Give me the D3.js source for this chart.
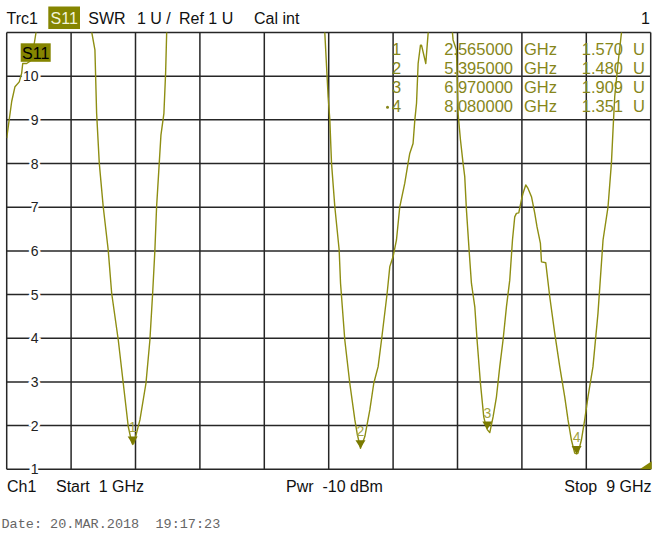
<!DOCTYPE html>
<html>
<head>
<meta charset="utf-8">
<script src="https://cdn.jsdelivr.net/npm/d3@7"></script>
<style>
  html, body { margin: 0; padding: 0; background: #fff; }
  svg { display: block; }
  text { font-family: "Liberation Sans", Arial, sans-serif; white-space: pre; }
</style>
</head>
<body>
<script>
// Trace: SWR vs frequency (GHz), sweep 1–9 GHz
const traceFreq = [
  1.000, 1.062, 1.103, 1.156, 1.186, 1.199, 1.248, 1.281, 1.310, 1.364, 1.390,
  2.040, 2.059, 2.096, 2.117, 2.150, 2.199, 2.261, 2.304, 2.386, 2.448, 2.510, 2.552, 2.565, 2.581,
  2.655, 2.730, 2.779, 2.813, 2.841, 2.862, 2.895, 2.916, 2.953, 2.974, 2.987, 3.000,
  4.940, 4.952, 4.993, 5.014, 5.035, 5.076, 5.130, 5.147, 5.200, 5.262, 5.325, 5.353, 5.395,
  5.449, 5.511, 5.560, 5.614, 5.656, 5.726, 5.759, 5.800, 5.842, 5.883, 5.945, 5.986, 6.007,
  6.048, 6.070, 6.091, 6.111, 6.140, 6.153, 6.206, 6.235, 6.260,
  6.520, 6.538, 6.545, 6.587, 6.607, 6.637, 6.669, 6.690, 6.711, 6.744, 6.773, 6.815, 6.843,
  6.885, 6.926, 6.955, 6.970, 7.001, 7.042, 7.084, 7.125, 7.166, 7.208, 7.249, 7.283, 7.311,
  7.332, 7.361, 7.394, 7.414, 7.448, 7.476, 7.519, 7.560, 7.588, 7.630, 7.643, 7.696, 7.746,
  7.808, 7.870, 7.932, 7.973, 8.015, 8.056, 8.080, 8.097, 8.139, 8.180, 8.221, 8.283, 8.345,
  8.408, 8.470, 8.512, 8.532, 8.553, 8.594, 8.636, 8.660, 9.000
];
const traceSwr = [
  8.58, 9.42, 9.76, 9.87, 10.07, 10.29, 10.29, 10.33, 10.37, 11.00, 11.60,
  11.40, 10.98, 10.60, 9.15, 8.01, 7.01, 6.02, 5.03, 3.96, 2.97, 1.98, 1.62, 1.570, 1.60,
  2.13, 2.97, 3.96, 5.03, 6.02, 7.01, 8.01, 8.65, 9.15, 10.07, 10.98, 11.50,
  11.40, 10.98, 9.53, 9.00, 8.01, 7.01, 6.02, 5.26, 3.96, 2.97, 2.13, 1.82, 1.480,
  1.75, 2.36, 2.97, 3.35, 3.96, 5.03, 5.64, 5.87, 6.25, 7.01, 7.55, 8.01, 8.23,
  8.46, 9.00, 9.38, 10.29, 10.71, 10.71, 10.29, 10.98, 11.60,
  11.50, 10.98, 10.83, 10.60, 9.15, 8.54, 8.01, 7.70, 6.94, 6.02, 5.26, 4.72, 3.96,
  2.97, 2.20, 1.98, 1.909, 1.84, 2.20, 2.66, 3.35, 3.96, 4.72, 5.33, 6.25, 6.78,
  6.86, 6.87, 7.17, 7.32, 7.51, 7.43, 7.24, 6.86, 6.55, 6.17, 5.75, 5.73, 4.95,
  4.11, 3.35, 2.66, 2.13, 1.67, 1.37, 1.351, 1.37, 1.67, 2.13, 2.66, 3.35, 4.57,
  6.25, 7.01, 8.01, 8.77, 9.53, 10.29, 10.98, 11.60, 12.00
];

// Markers
const markerNum  = ["1", "2", "3", "4"];
const markerFreq = [2.565, 5.395, 6.970, 8.080];
const markerSwr  = [1.570, 1.480, 1.909, 1.351];

// Axis ticks
const yTicks = [1, 2, 3, 4, 5, 6, 7, 8, 9, 10];
const xDivisions = 10;

const W = 652, H = 533;
const olive = "#858500";
const traceColor = "#8e8e12";

const svg = d3.select("body").append("svg").attr("width", W).attr("height", H);
svg.append("rect").attr("width", W).attr("height", H).attr("fill", "#fff");

const x = d3.scaleLinear().domain([1, 9]).range([6.7, 650.7]);
const y = d3.scaleLinear().domain([1, 11]).range([469.3, 32.5]);

// Grid
const grid = svg.append("g").attr("stroke", "#262626").attr("stroke-width", 1.5);
const xGrid = d3.range(xDivisions + 1).map(i => 1 + i * 8 / xDivisions);
grid.selectAll("line.v").data(xGrid).join("line")
  .attr("x1", d => x(d)).attr("x2", d => x(d))
  .attr("y1", y(11)).attr("y2", y(1));
grid.selectAll("line.h").data(yTicks.concat([11])).join("line")
  .attr("x1", x(1)).attr("x2", x(9))
  .attr("y1", d => y(d)).attr("y2", d => y(d));

// Y tick labels, with a white halo that breaks the grid line
svg.append("g").selectAll("text").data(yTicks).join("text")
  .attr("x", 38.5).attr("y", d => y(d)).attr("dy", "0.36em")
  .attr("text-anchor", "end").attr("font-size", 14).attr("fill", "#222")
  .attr("stroke", "#fff").attr("stroke-width", 5).attr("paint-order", "stroke")
  .text(d => d);

// Trace, clipped to the plot area
svg.append("clipPath").attr("id", "plotClip").append("rect")
  .attr("x", x(1)).attr("y", y(11)).attr("width", x(9) - x(1)).attr("height", y(1) - y(11));
const line = d3.line().x(d => x(d[0])).y(d => y(d[1]));
svg.append("path")
  .datum(traceFreq.map((f, i) => [f, traceSwr[i]]))
  .attr("clip-path", "url(#plotClip)")
  .attr("fill", "none").attr("stroke", traceColor).attr("stroke-width", 1.4)
  .attr("stroke-linejoin", "round")
  .attr("d", line);

// Marker triangles and numbers
const mk = svg.append("g");
markerFreq.forEach((f, i) => {
  const mx = x(f), my = y(markerSwr[i]);
  mk.append("path")
    .attr("d", `M${mx - 5},${my - 8}L${mx + 5},${my - 8}L${mx},${my}Z`)
    .attr("fill", "#7a7a00");
  mk.append("text")
    .attr("x", mx).attr("y", my - 12).attr("text-anchor", "middle")
    .attr("font-size", 14).attr("fill", "#a3a340")
    .text(markerNum[i]);
});

// Bottom-right stop indicator
svg.append("path")
  .attr("d", `M${x(9) - 11},${y(1)}L${x(9) + 1},${y(1)}L${x(9) + 1},${y(1) - 8}Z`)
  .attr("fill", olive);

// Trace label box inside plot
svg.append("rect").attr("x", 20.7).attr("y", 43.3).attr("width", 30).attr("height", 18.5).attr("fill", olive);
svg.append("text").attr("x", 35.7).attr("y", 59).attr("text-anchor", "middle")
  .attr("font-size", 16).attr("fill", "#000").text("S11");

// Marker table
const table = svg.append("g").attr("font-size", 16.5).attr("fill", "#86861a");
markerFreq.forEach((f, i) => {
  const by = 54.5 + i * 19;
  table.append("text").attr("x", 392).attr("y", by).text(markerNum[i]);
  table.append("text").attr("x", 513).attr("y", by).attr("text-anchor", "end").text(f.toFixed(6));
  table.append("text").attr("x", 524).attr("y", by).text("GHz");
  table.append("text").attr("x", 623).attr("y", by).attr("text-anchor", "end").text(markerSwr[i].toFixed(3));
  table.append("text").attr("x", 633).attr("y", by).text("U");
});
table.append("circle").attr("cx", 387.5).attr("cy", 107.3).attr("r", 1.5).attr("fill", "#86861a");

// Header line
const head = svg.append("g").attr("font-size", 16).attr("fill", "#111");
head.append("text").attr("x", 6.5).attr("y", 23.5).text("Trc1");
head.append("rect").attr("x", 48.3).attr("y", 6.5).attr("width", 31.7).attr("height", 22.5).attr("fill", olive);
head.append("text").attr("x", 64.2).attr("y", 23.5).attr("text-anchor", "middle").attr("fill", "#f4f4d8").text("S11");
head.append("text").attr("x", 88.3).attr("y", 23.5).text("SWR");
head.append("text").attr("x", 137).attr("y", 23.5).text("1 U /");
head.append("text").attr("x", 179).attr("y", 23.5).text("Ref 1 U");
head.append("text").attr("x", 254).attr("y", 23.5).text("Cal int");
head.append("text").attr("x", 650).attr("y", 23.5).attr("text-anchor", "end").text("1");

// Footer line
const foot = svg.append("g").attr("font-size", 16).attr("fill", "#111");
foot.append("text").attr("x", 7).attr("y", 492).text("Ch1");
foot.append("text").attr("x", 56).attr("y", 492).text("Start  1 GHz");
foot.append("text").attr("x", 334.5).attr("y", 492).attr("text-anchor", "middle").text("Pwr  -10 dBm");
foot.append("text").attr("x", 651.5).attr("y", 492).attr("text-anchor", "end").text("Stop  9 GHz");

svg.append("text").attr("x", 1.5).attr("y", 528)
  .style("font-family", "'Liberation Mono', 'DejaVu Sans Mono', monospace")
  .attr("font-size", 13.5).attr("fill", "#666")
  .text("Date: 20.MAR.2018  19:17:23");
</script>
</body>
</html>
